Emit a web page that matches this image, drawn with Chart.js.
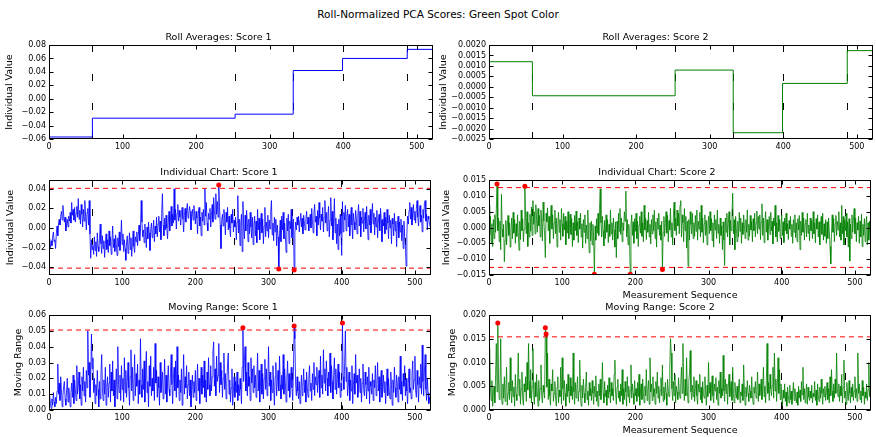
<!DOCTYPE html>
<html>
<head>
<meta charset="utf-8">
<script src="https://cdn.jsdelivr.net/npm/chart.js@4.4.1/dist/chart.umd.min.js"></script>
<style>
  html, body { margin: 0; padding: 0; background: #fff; }
  #fig { position: relative; width: 876px; height: 437px; overflow: hidden; background: #fff; }
  #fig canvas { position: absolute; }
  #suptitle { position: absolute; left: 0; top: 8px; width: 876px; text-align: center;
              font-family: 'DejaVu Sans', sans-serif; font-size: 10.5px; line-height: 12px; color: #000; }
</style>
</head>
<body>
<div id="fig">
  <div id="suptitle">Roll-Normalized PCA Scores: Green Spot Color</div>
</div>
<script>
// ---- data -------------------------------------------------------------
const X_MAX = 522;
const xTicks = [0, 100, 200, 300, 400, 500];

// roll boundaries (first sample index of each roll) and roll averages
const rollStarts = [0, 59, 253, 332, 399, 487];
const rollAvg1 = [-0.057, -0.029, -0.023, 0.042, 0.060, 0.0735];
const rollAvg2 = [0.0012, -0.00043, 0.0008, -0.0022, 0.00016, 0.00173];

// individual values, score 1 (units of 0.001)
const ind1 = [
  -11,-15,-20,-13,-18,-9,-4,-14,-12,-21,-6,2,-8,5,9,3,12,17,8,23,
  14,6,11,-3,4,9,1,12,7,16,5,26,13,19,8,21,6,15,22,11,
  30,9,18,4,24,14,1,19,7,28,12,-2,16,20,3,28,-6,-31,-12,-22,
  -18,-27,-9,-23,-14,-29,-5,-19,-24,-11,4,-16,-26,-8,-21,-13,-30,-17,-6,-22,
  -12,-25,-3,-18,-9,-27,-15,2,-20,-11,-24,-7,-16,-28,-10,-19,-4,-23,-13,8,
  -17,-6,-24,-12,-21,-33,-14,-8,-26,-18,-5,-22,-10,-29,-15,-3,-19,-25,-9,-14,
  -4,-18,-8,3,-13,-1,28,6,-9,-2,-15,4,-7,-20,1,-11,6,-5,-23,-2,
  5,-10,-3,8,-14,2,-6,11,-9,4,12,-4,7,-12,15,35,3,-8,10,-2,
  13,0,-11,6,17,-3,9,22,2,14,5,40,8,19,-1,15,24,7,18,11,
  3,16,21,9,-4,13,20,6,18,25,10,14,22,17,-2,12,19,8,23,15,
  4,17,10,-6,14,21,2,11,-8,16,7,19,3,40,12,26,5,-3,15,9,
  20,1,13,24,6,31,18,9,35,14,27,11,44,22,3,-21,8,14,2,19,
  10,-7,16,6,21,-2,12,0,-9,14,5,19,-4,8,1,11,-12,6,33,-5,
  9,-18,4,14,-24,27,2,-11,13,-3,18,6,-14,9,-6,16,1,-10,11,-17,
  3,12,-8,7,-15,19,-2,10,-12,4,15,-5,9,-16,2,21,-9,6,-3,13,
  -10,8,-1,17,28,-7,5,-13,11,-4,9,-18,3,-9,-42,-6,8,-14,12,-2,
  16,-11,5,-8,-25,10,-3,14,-16,7,-1,19,-10,4,9,-43,-5,6,-2,11,
  3,12,-4,8,15,1,10,-6,13,5,-2,9,17,4,11,-3,7,14,0,20,
  8,-5,15,24,6,12,-8,18,3,26,10,-2,14,7,21,-4,11,28,5,16,
  -3,13,22,-9,8,31,2,17,-12,6,30,-5,10,-16,4,-22,9,-8,14,-6,
  -28,27,-4,16,8,23,-3,12,19,1,14,-8,9,21,3,-11,15,6,-2,18,
  10,-6,13,24,2,17,-9,11,5,20,-4,8,16,-1,22,7,-12,13,3,19,
  -5,10,25,4,15,-7,11,1,18,-10,6,14,-3,20,8,-14,9,2,16,-6,
  11,-2,19,5,-11,13,0,8,-16,10,4,-8,15,-3,7,-19,2,12,-10,6,
  -4,9,-13,3,-21,7,-9,-17,-39,-6,12,4,18,26,9,21,3,15,24,8,
  17,5,20,28,11,2,16,23,6,13,-4,19,10,25,28,7,14,-2,12,9,
  4,1
];

// individual values, score 2 (units of 0.0001)
const ind2 = [
  68,-22,35,-48,12,-60,25,-35,40,-15,55,137,-10,30,-45,20,-70,105,-5,-30,
  10,-108,-40,22,-55,5,38,-25,15,-62,-8,30,-35,48,-18,25,-50,12,-28,40,
  -15,-72,20,-38,55,-10,28,-45,-5,130,32,-20,50,-60,15,-30,42,-12,65,-25,
  85,10,50,-20,72,25,-15,60,5,38,-30,55,12,-42,80,20,-25,-95,45,18,
  62,-10,35,-50,28,70,-5,40,-35,15,55,-20,30,-62,8,48,-15,25,-40,60,
  12,-28,45,-8,35,-55,20,-18,50,-35,10,42,-22,28,-60,15,-40,38,-10,52,
  -25,18,-48,30,-5,45,-30,12,-65,25,-15,40,-50,8,-35,55,-20,-80,15,-42,
  20,-55,10,-30,-148,5,-40,28,-18,45,-25,60,122,15,-30,35,-10,-58,22,-35,
  40,-15,25,-48,10,-28,55,-20,15,-40,30,-8,-62,18,-95,20,-35,45,-12,60,
  -22,30,-45,15,-10,50,20,115,-30,25,-55,10,-40,-148,5,40,-25,18,-50,28,
  -12,45,-35,20,-60,8,35,-18,50,-28,15,-45,70,-8,30,-38,22,-15,48,-30,
  10,-52,25,-20,40,-10,55,-35,18,-62,30,-5,45,-25,8,-40,20,-133,-15,35,
  -28,12,50,-18,38,-45,22,-8,60,-30,15,-55,40,80,-10,30,-25,55,5,45,
  -20,70,85,-30,40,15,-45,60,-10,35,-65,20,-122,25,-40,50,10,-20,45,-35,
  15,-28,38,-12,55,-40,20,-5,48,-30,70,-15,30,-48,12,40,-25,22,-55,8,
  35,-20,50,-10,28,-42,15,-62,40,-8,25,-35,55,-18,10,-50,30,-25,5,-70,
  18,-40,-120,30,-15,45,-30,12,50,-55,22,-10,40,108,-20,25,-70,35,-5,-45,
  20,-30,48,-12,30,-50,15,-22,40,5,-35,25,-15,55,-40,10,-28,38,-8,20,
  -45,28,-10,45,-30,15,52,-20,35,-5,40,-38,18,75,-25,30,-48,12,50,-15,
  25,-40,8,35,-22,48,-10,20,-52,30,5,70,-30,15,-45,38,-12,25,-35,10,
  40,-25,18,-48,30,-10,45,-20,12,-38,22,-5,35,-28,10,-50,25,-15,40,-32,
  15,-45,28,-8,38,-70,20,-25,48,-15,30,-40,12,25,-30,45,-18,8,-42,30,
  -10,22,-35,50,-20,15,-48,28,-5,40,-30,18,-55,10,35,-22,45,-40,12,-28,
  25,-50,18,-35,30,-10,-60,-115,-20,40,-15,28,-45,12,38,-25,20,-8,50,-30,
  15,-40,70,-20,35,-55,25,-10,45,-30,18,-62,28,-106,10,-35,40,-15,22,60,
  -20,30,-45,15,-8,35,-50,20,-30,42,-60,10,-25,28,-45,5,35,-55,15,-40,
  20,-30
];

// moving range, score 1 (units of 0.001), starts at sample 1
const mr1 = [
  9,4,1,7,3,11,5,2,8,4,12,29,10,17,6,21,13,2,9,15,
  18,7,3,12,20,5,14,9,2,11,17,8,22,4,19,13,6,28,10,15,
  24,7,16,3,21,12,27,9,18,5,25,14,50,22,30,8,19,48,26,33,
  11,20,4,16,9,25,13,2,18,7,23,35,14,6,19,10,27,3,15,21,
  8,17,29,5,24,12,31,9,19,2,14,26,7,40,16,11,22,6,28,13,
  20,5,33,11,25,8,18,30,14,3,21,38,12,27,6,17,35,9,23,15,
  29,4,19,10,45,16,8,26,13,31,5,22,37,11,18,2,28,15,34,9,
  20,12,27,6,42,17,25,8,21,14,3,30,11,19,24,7,16,32,10,22,
  5,18,28,13,9,23,35,16,4,20,27,12,31,8,40,14,22,6,19,11,
  26,3,17,35,10,21,14,28,7,16,24,9,19,2,13,22,8,18,11,25,
  6,15,29,12,20,4,17,27,10,22,14,31,8,19,5,24,13,33,16,9,
  28,12,21,37,43,15,26,9,34,18,22,42,11,30,16,25,8,20,36,13,
  23,7,17,29,36,10,19,5,14,26,3,12,21,8,18,11,24,6,16,9,
  20,13,4,27,52,18,31,40,12,24,9,30,15,21,6,33,17,26,11,28,
  14,22,8,19,36,12,25,5,17,29,10,23,7,20,32,13,26,9,18,40,
  15,24,6,19,11,28,14,3,21,30,9,18,25,12,34,16,7,22,13,35,
  10,26,17,5,20,31,12,23,8,19,27,14,6,24,53,45,16,9,21,12,
  7,18,4,13,22,9,15,26,11,19,5,24,14,8,20,28,12,17,6,23,
  13,30,9,21,16,27,11,19,25,8,34,14,22,10,38,17,26,12,31,20,
  9,24,15,36,11,28,18,7,22,33,13,26,10,19,29,14,24,8,17,12,
  55,21,13,30,50,18,27,9,15,24,6,19,12,28,4,16,23,10,35,17,
  22,8,14,26,11,20,5,17,29,13,9,24,16,7,21,12,27,4,18,15,
  10,23,6,19,14,28,9,16,30,12,21,5,17,25,8,13,22,11,18,4,
  15,26,9,20,12,7,24,16,3,19,11,27,14,8,22,17,5,21,13,34,
  10,18,6,23,15,28,9,20,12,4,17,26,11,14,7,22,31,13,19,34,
  12,8,25,16,5,21,14,29,10,41,18,9,24,35,13,6,20,11,4,8,
  5
];

// moving range, score 2 (units of 0.0001), starts at sample 1
const mr2 = [
  130,45,20,62,8,35,50,15,72,140,38,183,65,22,48,150,30,12,55,25,
  70,18,42,90,10,35,58,22,110,40,15,62,28,48,8,75,33,20,52,120,
  30,65,12,45,80,25,10,55,38,70,18,100,42,140,60,25,85,15,50,130,
  35,12,58,28,75,40,8,62,20,45,95,30,15,52,38,25,173,160,48,120,
  22,65,30,10,55,40,85,18,35,60,25,8,48,70,15,42,28,90,12,110,
  45,20,62,35,8,55,28,75,40,15,68,30,50,22,120,38,12,58,25,45,
  70,18,40,105,30,8,52,25,65,35,15,48,80,22,40,10,58,30,45,20,
  62,35,12,50,28,72,18,40,8,55,30,65,22,45,100,35,15,60,28,42,
  10,52,25,68,38,15,58,30,45,20,75,105,35,12,48,65,25,40,18,55,
  30,85,12,45,22,60,38,8,70,28,50,15,42,95,25,55,35,12,62,30,
  45,18,58,28,75,10,40,55,22,65,35,15,50,30,85,20,42,62,12,110,
  38,55,20,70,28,45,12,60,35,80,25,50,15,42,68,30,95,18,48,22,
  58,35,10,65,40,28,85,150,120,45,20,60,30,75,15,50,38,22,68,40,
  25,55,90,35,140,48,20,65,30,110,42,15,58,80,125,38,22,52,28,70,
  18,45,62,30,12,55,38,75,22,48,15,60,35,25,70,40,10,52,28,100,
  35,58,20,45,72,30,15,55,40,68,22,48,10,62,35,80,25,45,30,115,
  40,18,65,35,55,12,48,75,28,42,60,20,90,35,15,58,38,25,50,22,
  45,65,15,38,30,55,20,95,42,10,48,28,62,35,18,52,40,25,70,30,
  12,48,35,60,25,42,80,18,55,30,45,65,22,38,90,28,50,15,62,140,
  35,58,20,75,45,30,52,90,25,120,40,65,18,48,110,35,85,22,55,30,
  10,42,25,55,18,38,8,48,30,15,52,22,40,12,35,58,20,45,28,15,
  38,10,50,25,42,18,60,32,90,22,45,15,38,55,12,48,28,20,40,25,
  52,15,35,28,60,20,42,10,55,30,18,48,25,65,35,12,45,28,50,20,
  38,58,22,45,15,70,30,85,40,18,55,25,65,35,120,42,28,55,18,50,
  30,75,15,48,105,25,40,12,58,32,20,62,35,15,48,28,55,20,40,70,
  25,45,18,120,35,55,22,40,15,62,30,48,12,38,25,55,20,42,100,28,
  45
];

// control limits
const ind1Limits = [-0.041, 0.0405];
const ind2Limits = [-0.0126, 0.0126];
const mr1Limit = 0.0505;
const mr2Limit = 0.0154;

// y tick values
const yTicksRoll1 = [-0.06, -0.04, -0.02, 0, 0.02, 0.04, 0.06, 0.08];
const yTicksRoll2 = [-0.0025, -0.002, -0.0015, -0.001, -0.0005, 0, 0.0005, 0.001, 0.0015, 0.002];
const yTicksInd1 = [-0.04, -0.02, 0, 0.02, 0.04];
const yTicksInd2 = [-0.015, -0.01, -0.005, 0, 0.005, 0.01, 0.015];
const yTicksMr1 = [0, 0.01, 0.02, 0.03, 0.04, 0.05, 0.06];
const yTicksMr2 = [0, 0.005, 0.01, 0.015, 0.02];

// ---- helpers ----------------------------------------------------------
const FONT = "'DejaVu Sans', sans-serif";
const BLUE = '#0000ff', GREEN = '#008000', RED = '#ff0000';

const series = (vals, unit, x0) => vals.map((v, i) => ({ x: i + x0, y: v / unit }));
const steps = avgs => rollStarts.map((s, i) => ({ x: s, y: avgs[i] }))
  .concat([{ x: X_MAX - 1, y: avgs[avgs.length - 1] }]);
const flagged = (pts, lo, hi) => pts.filter(p => p.y < lo || p.y > hi);

const fmt = (v, dec) => {
  if (Math.abs(v) < 1e-12) v = 0;
  const s = v.toFixed(dec);
  return v < 0 ? '\u2212' + s.slice(1) : s;
};

function lineSet(data, color, width) {
  return { data, borderColor: color, borderWidth: width || 1, pointRadius: 0, tension: 0, order: 2 };
}
function limitSet(y) {
  return { data: [{ x: 0, y }, { x: X_MAX, y }], borderColor: RED, borderWidth: 1,
           borderDash: [5, 4], pointRadius: 0, order: 1 };
}
function dotSet(data) {
  return { data, showLine: false, pointRadius: 2.5, pointBackgroundColor: RED,
           pointBorderWidth: 0, order: 0 };
}

// axes box + inward ticks on all sides, roll boundaries as black dashes
const frame = {
  id: 'frame',
  beforeDatasetsDraw(chart) {
    const { ctx, chartArea: a, scales: { x } } = chart;
    ctx.save();
    ctx.beginPath();
    ctx.rect(a.left, a.top, a.width, a.height);
    ctx.clip();
    ctx.strokeStyle = '#000';
    ctx.lineWidth = 1;
    ctx.setLineDash([7, 22]);
    rollStarts.slice(1).forEach(v => {
      const px = Math.round(x.getPixelForValue(v)) + 0.5;
      ctx.beginPath();
      ctx.moveTo(px, a.top);
      ctx.lineTo(px, a.bottom);
      ctx.stroke();
    });
    ctx.restore();
  },
  afterDatasetsDraw(chart) {
    const { ctx, chartArea: a, scales: { x, y } } = chart;
    const L = Math.round(a.left) + 0.5, R = Math.round(a.right) - 0.5;
    const T = Math.round(a.top) + 0.5, B = Math.round(a.bottom) - 0.5;
    ctx.save();
    ctx.strokeStyle = '#000';
    ctx.lineWidth = 1;
    ctx.strokeRect(L, T, R - L, B - T);
    ctx.beginPath();
    x.ticks.forEach(t => {
      const p = Math.round(x.getPixelForValue(t.value)) + 0.5;
      ctx.moveTo(p, T); ctx.lineTo(p, T + 4);
      ctx.moveTo(p, B); ctx.lineTo(p, B - 4);
    });
    y.ticks.forEach(t => {
      const p = Math.round(y.getPixelForValue(t.value)) + 0.5;
      ctx.moveTo(L, p); ctx.lineTo(L + 4, p);
      ctx.moveTo(R, p); ctx.lineTo(R - 4, p);
    });
    ctx.stroke();
    ctx.restore();
  }
};

const fig = document.getElementById('fig');

function makePanel(p) {
  const W = p.yw, H = p.xTitle ? 28 : 16;
  const c = document.createElement('canvas');
  c.width = (p.r - p.l) + W + 2;
  c.height = (p.b - p.t) + 20 + H;
  c.style.left = (p.l - W) + 'px';
  c.style.top = (p.t - 20) + 'px';
  fig.appendChild(c);
  const tickFont = { family: FONT, size: 8 };
  const textFont = { family: FONT, size: 9.5, weight: 'normal' };
  return new Chart(c, {
    type: 'line',
    data: { datasets: p.datasets },
    options: {
      responsive: false,
      animation: false,
      devicePixelRatio: 1,
      events: [],
      layout: { padding: { top: 0, left: 0, bottom: 0, right: 2 } },
      plugins: {
        legend: { display: false },
        tooltip: { enabled: false },
        title: { display: true, text: p.title, font: textFont, color: '#000',
                 padding: { top: 7.1, bottom: 1.5 } },
      },
      scales: {
        x: {
          type: 'linear', min: 0, max: X_MAX, bounds: 'data',
          grid: { display: false, drawTicks: false }, border: { display: false },
          afterBuildTicks: s => { s.ticks = xTicks.map(v => ({ value: v })); },
          afterFit: s => { s.height = H; },
          ticks: { font: tickFont, color: '#000', padding: 3, maxRotation: 0,
                   autoSkip: false, callback: v => String(v) },
          title: { display: !!p.xTitle, text: p.xTitle || '', font: textFont, color: '#000',
                   padding: { top: 0, bottom: 2 } },
        },
        y: {
          type: 'linear', min: p.ymin, max: p.ymax, bounds: 'data',
          grid: { display: false, drawTicks: false }, border: { display: false },
          afterBuildTicks: s => { s.ticks = p.yTicks.map(v => ({ value: v })); },
          afterFit: s => { s.width = W; },
          ticks: { font: tickFont, color: '#000', padding: 3, autoSkip: false,
                   callback: v => fmt(v, p.dec) },
          title: { display: true, text: p.yTitle, font: textFont, color: '#000',
                   padding: { top: 0.3, bottom: 0 } },
        },
      },
    },
    plugins: [frame],
  });
}

// ---- build ------------------------------------------------------------
const ind1Pts = series(ind1, 1000, 0);
const ind2Pts = series(ind2, 10000, 0);
const mr1Pts = series(mr1, 1000, 1);
const mr2Pts = series(mr2, 10000, 1);

makePanel({
  l: 49, t: 45, r: 433, b: 139, yw: 45,
  title: 'Roll Averages: Score 1', yTitle: 'Individual Value',
  ymin: -0.06, ymax: 0.08, yTicks: yTicksRoll1, dec: 2,
  datasets: [Object.assign(lineSet(steps(rollAvg1), BLUE), { stepped: true })],
});
makePanel({
  l: 489, t: 45, r: 873, b: 139, yw: 51,
  title: 'Roll Averages: Score 2', yTitle: 'Individual Value',
  ymin: -0.0025, ymax: 0.002, yTicks: yTicksRoll2, dec: 4,
  datasets: [Object.assign(lineSet(steps(rollAvg2), GREEN), { stepped: true })],
});
makePanel({
  l: 49, t: 180, r: 433, b: 275, yw: 44,
  title: 'Individual Chart: Score 1', yTitle: 'Individual Value',
  ymin: -0.048, ymax: 0.049, yTicks: yTicksInd1, dec: 2,
  datasets: [
    dotSet(flagged(ind1Pts, ind1Limits[0], ind1Limits[1])),
    limitSet(ind1Limits[0]), limitSet(ind1Limits[1]),
    lineSet(ind1Pts, BLUE, 0.8),
  ],
});
makePanel({
  l: 489, t: 180, r: 873, b: 275, yw: 48,
  title: 'Individual Chart: Score 2', yTitle: 'Individual Value', xTitle: 'Measurement Sequence',
  ymin: -0.015, ymax: 0.015, yTicks: yTicksInd2, dec: 3,
  datasets: [
    dotSet(flagged(ind2Pts, ind2Limits[0], ind2Limits[1])),
    limitSet(ind2Limits[0]), limitSet(ind2Limits[1]),
    lineSet(ind2Pts, GREEN, 0.8),
  ],
});
makePanel({
  l: 49, t: 315, r: 433, b: 410, yw: 36,
  title: 'Moving Range: Score 1', yTitle: 'Moving Range',
  ymin: 0, ymax: 0.06, yTicks: yTicksMr1, dec: 2,
  datasets: [
    dotSet(flagged(mr1Pts, -Infinity, mr1Limit)),
    limitSet(mr1Limit),
    lineSet(mr1Pts, BLUE, 0.8),
  ],
});
makePanel({
  l: 489, t: 315, r: 873, b: 410, yw: 42,
  title: 'Moving Range: Score 2', yTitle: 'Moving Range', xTitle: 'Measurement Sequence',
  ymin: 0, ymax: 0.02, yTicks: yTicksMr2, dec: 3,
  datasets: [
    dotSet(flagged(mr2Pts, -Infinity, mr2Limit)),
    limitSet(mr2Limit),
    lineSet(mr2Pts, GREEN, 0.8),
  ],
});
</script>
</body>
</html>
